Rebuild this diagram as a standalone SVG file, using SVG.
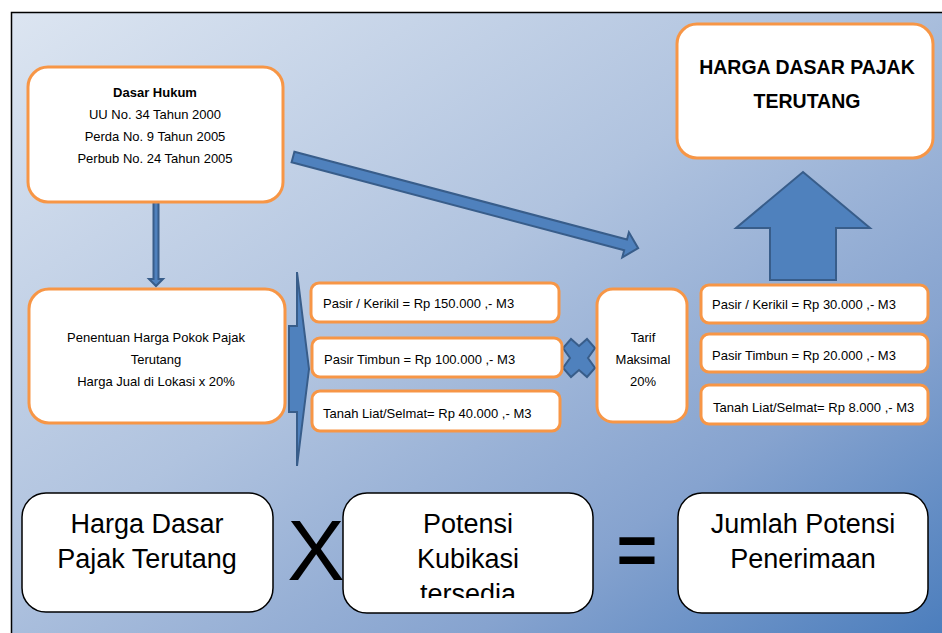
<svg xmlns="http://www.w3.org/2000/svg" width="942" height="633" viewBox="0 0 942 633">
  <defs>
    <linearGradient id="bg" x1="0" y1="0" x2="1" y2="1">
      <stop offset="0" stop-color="#dce5f1"/>
      <stop offset="0.45" stop-color="#b0c3df"/>
      <stop offset="0.75" stop-color="#86a3cf"/>
      <stop offset="1" stop-color="#4c7ebd"/>
    </linearGradient>
    <clipPath id="clipPotensi">
      <rect x="343" y="493" width="250" height="105"/>
    </clipPath>
  </defs>
  <style>
    .orange { fill: #ffffff; stroke: #f79646; stroke-width: 3; }
    .black { fill: #ffffff; stroke: #000000; stroke-width: 1.5; }
    .blue { fill: #4f81bd; stroke: #385d8a; stroke-width: 2; stroke-linejoin: miter; }
    .t { font-family: "Liberation Sans", Arial, sans-serif; font-size: 13px; fill: #000000; }
    .c { text-anchor: middle; }
    .title { font-family: "Liberation Sans", Arial, sans-serif; font-weight: bold; font-size: 19.5px; text-anchor: middle; fill: #000000; }
    .big { font-family: "Liberation Sans", Arial, sans-serif; font-size: 27px; text-anchor: middle; fill: #000000; }
    .op { font-family: "Liberation Sans", Arial, sans-serif; text-anchor: middle; fill: #000000; }
  </style>

  <!-- background panel -->
  <rect x="11" y="12" width="931" height="621" fill="url(#bg)"/>
  <path d="M11.5 633 V12.5 H942" fill="none" stroke="#000000" stroke-width="1.5"/>

  <!-- connectors -->
  <g id="connectors">
    <!-- down arrow from legal basis to cost determination -->
    <path class="blue" d="M153.5 202 H158.5 V279 H163 L156 286 L149 279 H153.5 Z"/>
    <!-- long diagonal arrow -->
    <g transform="translate(293 157) rotate(14.8)">
      <path class="blue" d="M0 -5.5 H344 V-13 L357 0 L344 13 V5.5 H0 Z"/>
    </g>
    <!-- tall right-pointing arrow -->
    <path class="blue" d="M289 326 H297 V272 L309 369 L297 466 V412 H289 Z"/>
    <!-- multiply symbol -->
    <path class="blue" d="M579 346 L587 339 L595 348 L588 358 L595 368 L587 377 L579 370 L571 377 L563 368 L570 358 L563 348 L571 339 Z"/>
    <!-- up arrow into result box -->
    <path class="blue" d="M770 280 V228 H736 L803 172 L870 228 H836 V280 Z"/>
  </g>

  <!-- legal basis -->
  <g id="dasar-hukum">
    <rect class="orange" x="28" y="67" width="255" height="135" rx="20"/>
    <text class="t c" x="155" y="97" font-weight="bold">Dasar Hukum</text>
    <text class="t c" x="155" y="119">UU No. 34 Tahun 2000</text>
    <text class="t c" x="155" y="141">Perda No. 9 Tahun 2005</text>
    <text class="t c" x="155" y="163">Perbub No. 24 Tahun 2005</text>
  </g>

  <!-- cost determination -->
  <g id="penentuan">
    <rect class="orange" x="29" y="289" width="256" height="134" rx="20"/>
    <text class="t c" x="156" y="342">Penentuan Harga Pokok Pajak</text>
    <text class="t c" x="156" y="364">Terutang</text>
    <text class="t c" x="156" y="386">Harga Jual di Lokasi x 20%</text>
  </g>

  <!-- selling prices -->
  <g id="harga-pasir-kerikil">
    <rect class="orange" x="311" y="283" width="248" height="39" rx="8"/>
    <text class="t" x="323" y="308">Pasir / Kerikil = Rp 150.000  ,- M3</text>
  </g>
  <g id="harga-pasir-timbun">
    <rect class="orange" x="312" y="338" width="250" height="39" rx="8"/>
    <text class="t" x="324" y="364">Pasir Timbun = Rp 100.000  ,- M3</text>
  </g>
  <g id="harga-tanah-liat">
    <rect class="orange" x="312" y="391" width="248" height="40" rx="8"/>
    <text class="t" x="323" y="418">Tanah Liat/Selmat= Rp 40.000  ,- M3</text>
  </g>

  <!-- tariff -->
  <g id="tarif">
    <rect class="orange" x="597" y="289" width="90" height="133" rx="16"/>
    <text class="t c" x="643" y="342">Tarif</text>
    <text class="t c" x="643" y="364">Maksimal</text>
    <text class="t c" x="643" y="386">20%</text>
  </g>

  <!-- tax base per material -->
  <g id="dasar-pasir-kerikil">
    <rect class="orange" x="701" y="285" width="227" height="38" rx="8"/>
    <text class="t" x="712" y="309">Pasir / Kerikil = Rp 30.000  ,- M3</text>
  </g>
  <g id="dasar-pasir-timbun">
    <rect class="orange" x="701" y="334" width="227" height="38" rx="8"/>
    <text class="t" x="712" y="360">Pasir Timbun = Rp 20.000  ,- M3</text>
  </g>
  <g id="dasar-tanah-liat">
    <rect class="orange" x="701" y="385" width="227" height="39" rx="8"/>
    <text class="t" x="713" y="412">Tanah Liat/Selmat= Rp 8.000 ,- M3</text>
  </g>

  <!-- result -->
  <g id="harga-dasar-pajak">
    <rect class="orange" x="677" y="24" width="256" height="134" rx="20"/>
    <text class="title" x="807" y="74">HARGA DASAR PAJAK</text>
    <text class="title" x="807" y="108">TERUTANG</text>
  </g>

  <!-- formula row -->
  <g id="formula-harga">
    <rect class="black" x="22" y="493" width="251" height="119" rx="24"/>
    <text class="big" x="147" y="533">Harga Dasar</text>
    <text class="big" x="147" y="568">Pajak Terutang</text>
  </g>
  <text class="op" x="316" y="580" font-size="86">X</text>
  <g id="formula-potensi">
    <rect class="black" x="343" y="493" width="250" height="120" rx="24"/>
    <g clip-path="url(#clipPotensi)">
      <text class="big" x="468" y="533">Potensi</text>
      <text class="big" x="468" y="568">Kubikasi</text>
      <text class="big" x="468" y="603">tersedia</text>
    </g>
  </g>
  <text class="op" x="637" y="574" font-size="70" font-weight="bold">=</text>
  <g id="formula-jumlah">
    <rect class="black" x="678" y="493" width="250" height="120" rx="24"/>
    <text class="big" x="803" y="533">Jumlah Potensi</text>
    <text class="big" x="803" y="568">Penerimaan</text>
  </g>
</svg>
